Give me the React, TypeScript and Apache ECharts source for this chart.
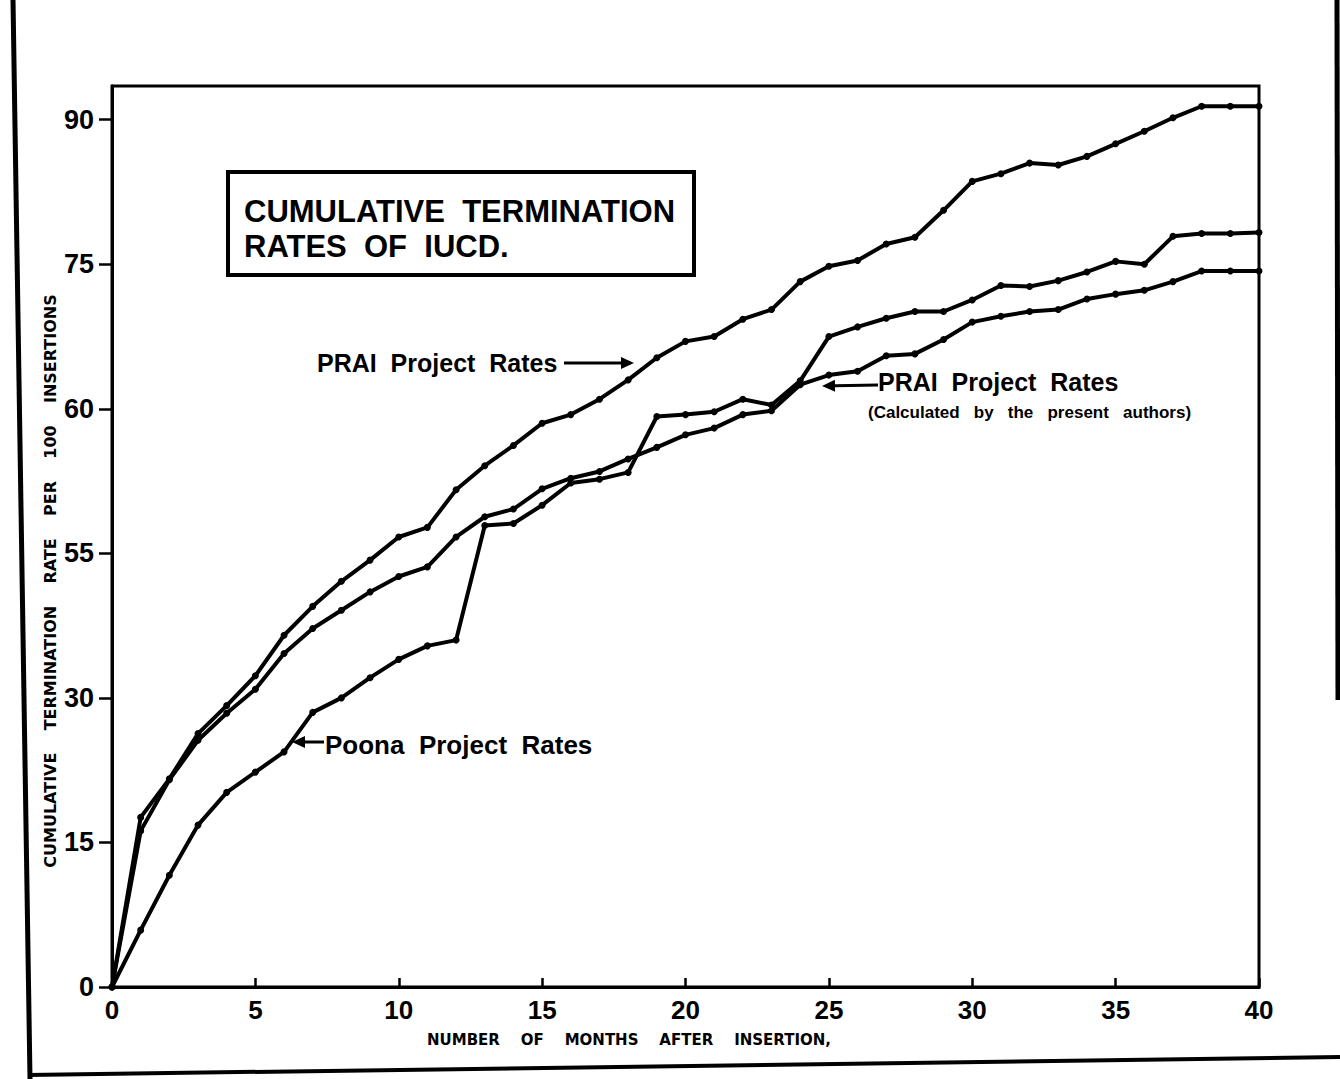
import React, { useEffect, useRef } from "react";
import * as echarts from "echarts";

const months = [
  0, 1, 2, 3, 4, 5, 6, 7, 8, 9, 10, 11, 12, 13, 14, 15, 16, 17, 18, 19, 20,
  21, 22, 23, 24, 25, 26, 27, 28, 29, 30, 31, 32, 33, 34, 35, 36, 37, 38, 39, 40,
];

// PRAI Project Rates (reported) - top curve
const praiReported = [
  0, 17.6, 21.6, 26.3, 29.2, 32.3, 36.5, 39.5, 42.1, 44.3, 46.7, 47.7, 51.6,
  54.1, 56.2, 58.5, 59.4, 61.0, 63.0, 65.3, 67.0, 67.5, 69.3, 70.3, 73.2, 74.8,
  75.4, 77.1, 77.8, 80.6, 83.6, 84.4, 85.5, 85.3, 86.2, 87.5, 88.8, 90.2, 91.4,
  91.4, 91.4,
];

// PRAI Project Rates (calculated by the present authors)
const praiCalculated = [
  0, 16.2, 21.5, 25.6, 28.4, 30.9, 34.6, 37.2, 39.1, 41.0, 42.6, 43.6, 46.7,
  48.8, 49.6, 51.7, 52.8, 53.5, 54.8, 56.0, 57.3, 58.0, 59.4, 59.8, 62.5, 63.5,
  63.9, 65.5, 65.7, 67.2, 69.0, 69.6, 70.1, 70.3, 71.4, 71.9, 72.3, 73.2, 74.3,
  74.3, 74.3,
];

// Poona Project Rates
const poona = [
  0, 5.9, 11.6, 16.8, 20.2, 22.3, 24.4, 28.5, 30.0, 32.1, 34.0, 35.4, 36.0,
  47.9, 48.1, 50.0, 52.3, 52.7, 53.4, 59.2, 59.4, 59.7, 61.0, 60.4, 62.9, 67.5,
  68.5, 69.4, 70.1, 70.1, 71.3, 72.8, 72.7, 73.3, 74.2, 75.3, 75.0, 77.9, 78.2,
  78.2, 78.3,
];

const yTickValues = [0, 15, 30, 45, 60, 75, 90];
const yTickLabels = ["0", "15", "30", "55", "60", "75", "90"];

const FONT = "'Liberation Sans', Arial, sans-serif";

function pairs(values: number[]) {
  return months.map((m, i) => [m, values[i]]);
}

function arrow(x1: number, y1: number, x2: number, y2: number) {
  const ang = Math.atan2(y2 - y1, x2 - x1);
  const len = 13;
  const w = 6;
  const bx = x2 - len * Math.cos(ang);
  const by = y2 - len * Math.sin(ang);
  const px = -Math.sin(ang) * w;
  const py = Math.cos(ang) * w;
  return [
    {
      type: "line",
      shape: { x1, y1, x2: bx, y2: by },
      style: { stroke: "#000", lineWidth: 3 },
      z: 20,
    },
    {
      type: "polygon",
      shape: {
        points: [
          [x2, y2],
          [bx + px, by + py],
          [bx - px, by - py],
        ],
      },
      style: { fill: "#000" },
      z: 20,
    },
  ];
}

export default function App() {
  const ref = useRef<HTMLDivElement>(null);

  useEffect(() => {
    if (!ref.current) return;
    const chart = echarts.init(ref.current, undefined, { renderer: "svg" });

    const lineSeries = (name: string, values: number[]) => ({
      name,
      type: "line",
      data: pairs(values),
      symbol: "circle",
      symbolSize: 7,
      lineStyle: { color: "#000", width: 4 },
      itemStyle: { color: "#000" },
      z: 5,
    });

    chart.setOption({
      animation: false,
      backgroundColor: "#fff",
      grid: {
        left: 112,
        right: 81,
        top: 86,
        bottom: 92,
        show: true,
        borderColor: "#000",
        borderWidth: 3,
        backgroundColor: "transparent",
        outerBoundsMode: "none",
      },
      xAxis: {
        type: "value",
        min: 0,
        max: 40,
        interval: 5,
        axisLine: { show: true, lineStyle: { color: "#000", width: 3 } },
        axisTick: { show: true, inside: true, length: 9, lineStyle: { color: "#000", width: 2.5 } },
        axisLabel: {
          color: "#000",
          fontFamily: FONT,
          fontWeight: "bold",
          fontSize: 26,
          margin: 10,
        },
        splitLine: { show: false },
      },
      yAxis: {
        type: "value",
        min: 0,
        max: 93.5,
        axisLine: { show: true, lineStyle: { color: "#000", width: 3 } },
        axisTick: {
          show: true,
          length: 13,
          customValues: yTickValues,
          lineStyle: { color: "#000", width: 2.5 },
        },
        axisLabel: {
          customValues: yTickValues,
          color: "#000",
          fontFamily: FONT,
          fontWeight: "bold",
          fontSize: 27,
          margin: 18,
          formatter: (v: number) => {
            const i = yTickValues.indexOf(v);
            return i >= 0 ? yTickLabels[i] : "";
          },
        },
        splitLine: { show: false },
      },
      series: [
        lineSeries("PRAI Project Rates", praiReported),
        lineSeries("PRAI Project Rates (Calculated by the present authors)", praiCalculated),
        lineSeries("Poona Project Rates", poona),
      ],
      graphic: [
        // outer scanned page frame
        {
          type: "polyline",
          shape: { points: [[13, 0], [30, 1079]] },
          style: { stroke: "#000", lineWidth: 5, fill: "none" },
        },
        {
          type: "polyline",
          shape: { points: [[28, 1075], [1340, 1057]] },
          style: { stroke: "#000", lineWidth: 4, fill: "none" },
        },
        {
          type: "polyline",
          shape: { points: [[1337, 0], [1338, 700]] },
          style: { stroke: "#000", lineWidth: 5, fill: "none" },
        },
        // title box
        {
          type: "rect",
          shape: { x: 228, y: 172, width: 466, height: 103 },
          style: { fill: "#fff", stroke: "#000", lineWidth: 4 },
          z: 10,
        },
        {
          type: "text",
          x: 244,
          y: 211,
          style: {
            text: "CUMULATIVE  TERMINATION",
            font: `bold 31px ${FONT}`,
            fill: "#000",
            verticalAlign: "middle",
          },
          z: 11,
        },
        {
          type: "text",
          x: 244,
          y: 246,
          style: {
            text: "RATES  OF  IUCD.",
            font: `bold 31px ${FONT}`,
            fill: "#000",
            verticalAlign: "middle",
          },
          z: 11,
        },
        // axis names
        {
          type: "text",
          x: 50,
          y: 581,
          rotation: Math.PI / 2,
          style: {
            text: "CUMULATIVE    TERMINATION    RATE    PER    100    INSERTIONS",
            font: `bold 16px 'DejaVu Sans', ${FONT}`,
            fill: "#000",
            align: "center",
            verticalAlign: "middle",
          },
        },
        {
          type: "text",
          x: 629,
          y: 1040,
          style: {
            text: "NUMBER    OF    MONTHS    AFTER    INSERTION,",
            font: `bold 15px 'DejaVu Sans', ${FONT}`,
            fill: "#000",
            align: "center",
            verticalAlign: "middle",
          },
        },
        // annotations
        {
          type: "text",
          x: 317,
          y: 363,
          style: {
            text: "PRAI  Project  Rates",
            font: `bold 25px ${FONT}`,
            fill: "#000",
            verticalAlign: "middle",
          },
          z: 20,
        },
        ...arrow(564, 363, 634, 363),
        {
          type: "text",
          x: 878,
          y: 382,
          style: {
            text: "PRAI  Project  Rates",
            font: `bold 25px ${FONT}`,
            fill: "#000",
            verticalAlign: "middle",
          },
          z: 20,
        },
        ...arrow(878, 385, 822, 386),
        {
          type: "text",
          x: 868,
          y: 412,
          style: {
            text: "(Calculated   by   the   present   authors)",
            font: `bold 17px ${FONT}`,
            fill: "#000",
            verticalAlign: "middle",
          },
          z: 20,
        },
        {
          type: "text",
          x: 325,
          y: 745,
          style: {
            text: "Poona  Project  Rates",
            font: `bold 26px ${FONT}`,
            fill: "#000",
            verticalAlign: "middle",
          },
          z: 20,
        },
        ...arrow(324, 742, 292, 742),
      ],
    });

    return () => chart.dispose();
  }, []);

  return (
    <div
      ref={ref}
      style={{ position: "absolute", left: 0, top: 0, width: 1340, height: 1079, background: "#fff" }}
    />
  );
}
